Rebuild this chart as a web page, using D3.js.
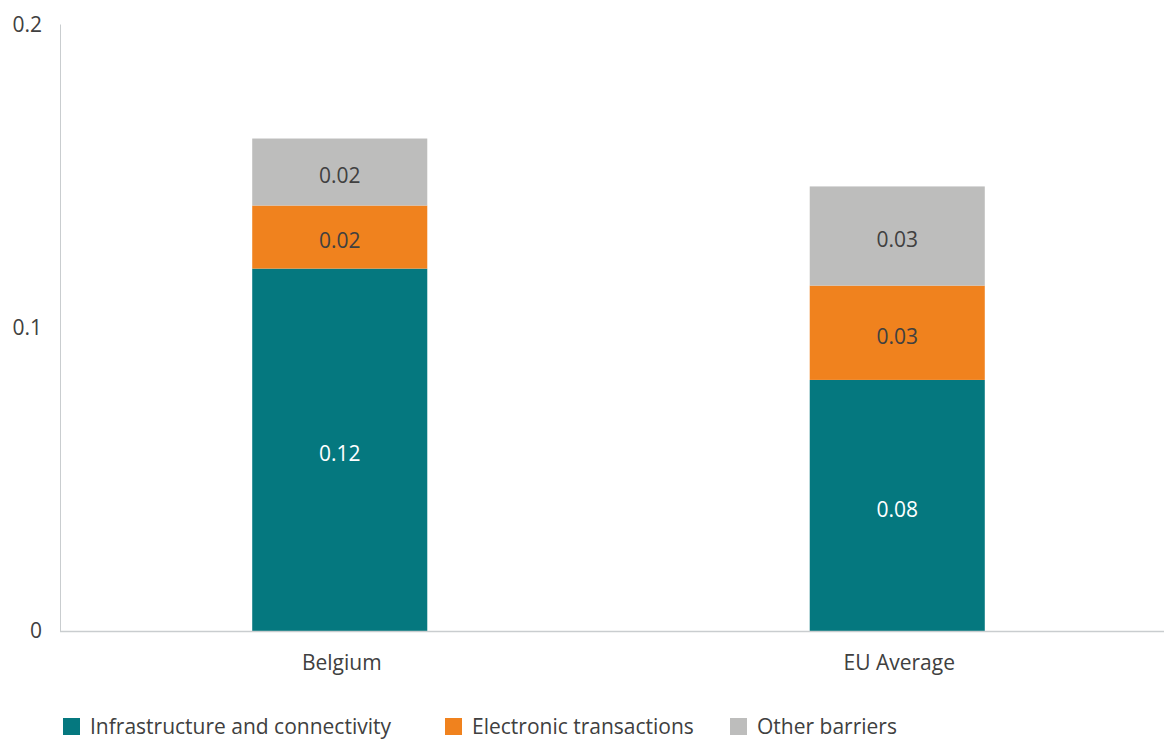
<!DOCTYPE html>
<html>
<head>
<meta charset="utf-8">
<script src="https://cdn.jsdelivr.net/npm/d3@7"></script>
<style>
  body { margin: 0; background: #fff; }
  text { font-family: "Open Sans", Lato, sans-serif; }
</style>
</head>
<body>
<svg width="1164" height="740"></svg>
<script>
// chart data
var categories = ["Belgium", "EU Average"];
var seriesNames = ["Infrastructure and connectivity", "Electronic transactions", "Other barriers"];
var infrastructure = [0.1195, 0.0828];
var electronic = [0.0208, 0.0311];
var other = [0.0221, 0.0327];
var yTicks = [0, 0.1, 0.2];
var colors = ["#05787f", "#f0821e", "#bdbdbc"];

var svg = d3.select("svg"),
    plotLeft = 60, plotRight = 1164, plotTop = 24.5, plotBottom = 631;

var x = d3.scaleBand().domain(categories).range([plotLeft + 1, 1176])
        .paddingInner(0.686).paddingOuter(0.343);
var y = d3.scaleLinear().domain([0, 0.2]).range([plotBottom, plotTop]);

var rows = categories.map(function (c, i) {
    return {cat: c, s0: infrastructure[i], s1: electronic[i], s2: other[i]};
});
var stack = d3.stack().keys(["s0", "s1", "s2"])(rows);

// y axis line
svg.append("line")
        .attr("x1", plotLeft + 0.5).attr("x2", plotLeft + 0.5)
        .attr("y1", plotTop).attr("y2", plotBottom)
        .style("stroke", "#c9cdcf").style("stroke-width", 1);

// y tick labels
svg.append("g").selectAll("text")
        .data(yTicks)
        .enter().append("text")
        .attr("x", 42)
        .attr("y", function (d) { return y(d); })
        .attr("dy", ".35em")
        .attr("text-anchor", "end")
        .style("font-size", "21px")
        .style("fill", "#404040")
        .text(function (d) { return d === 0 ? "0" : d3.format(".1f")(d); });

var layer = svg.append("g").selectAll("g")
        .data(stack)
        .enter().append("g")
        .attr("fill", function (d, i) { return colors[i]; });

layer.selectAll("rect")
        .data(function (d) { return d; })
        .enter().append("rect")
        .attr("x", function (d) { return x(d.data.cat); })
        .attr("width", x.bandwidth())
        .attr("y", function (d) { return y(d[1]); })
        .attr("height", function (d) { return y(d[0]) - y(d[1]); });

// value labels
layer.selectAll("text")
        .data(function (d, i) { return d.map(function (p) { p.layer = i; return p; }); })
        .enter().append("text")
        .attr("x", function (d) { return x(d.data.cat) + x.bandwidth() / 2; })
        .attr("y", function (d) { return (y(d[0]) + y(d[1])) / 2 + 4; })
        .attr("dy", ".35em")
        .attr("text-anchor", "middle")
        .style("font-size", "21px")
        .style("fill", function (d) { return d.layer === 0 ? "#ffffff" : "#404040"; })
        .text(function (d) { return d3.format(".2f")(d[1] - d[0]); });

// x axis line
svg.append("line")
        .attr("x1", plotLeft).attr("x2", plotRight)
        .attr("y1", plotBottom + 0.5).attr("y2", plotBottom + 0.5)
        .style("stroke", "#c9cdcf").style("stroke-width", 1.5);

// category labels
svg.append("g").selectAll("text")
        .data(categories)
        .enter().append("text")
        .attr("x", function (d) { return x(d) + x.bandwidth() / 2 + 2; })
        .attr("y", 663)
        .attr("dy", ".35em")
        .attr("text-anchor", "middle")
        .style("font-size", "21px")
        .style("fill", "#404040")
        .text(function (d) { return d; });

// legend
var legendX = [63, 445, 730];
var legend = svg.append("g").selectAll("g")
        .data(seriesNames)
        .enter().append("g")
        .attr("transform", function (d, i) { return "translate(" + legendX[i] + ",718)"; });
legend.append("rect")
        .attr("width", 17).attr("height", 17)
        .attr("fill", function (d, i) { return colors[i]; });
legend.append("text")
        .attr("x", 27).attr("y", 8.5)
        .attr("dy", ".35em")
        .style("font-size", "21px")
        .style("fill", "#404040")
        .text(function (d) { return d; });
</script>
</body>
</html>
